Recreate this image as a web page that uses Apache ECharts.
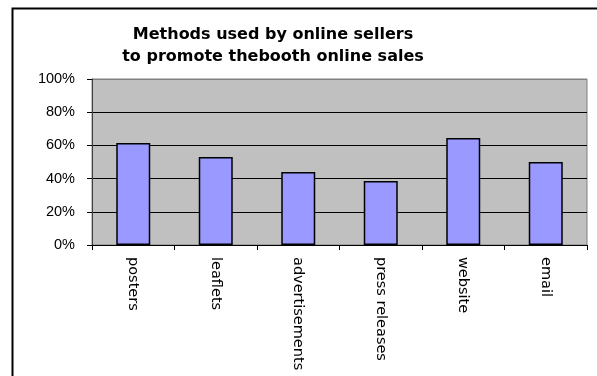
<!DOCTYPE html>
<html>
<head>
<meta charset="utf-8">
<script src="https://cdn.jsdelivr.net/npm/echarts@6/dist/echarts.min.js"></script>
<style>
  html, body { margin: 0; padding: 0; background: #fff; }
  #chart { width: 597px; height: 376px; }
</style>
</head>
<body>
<div id="chart"></div>
<script>
  // data
  const categories = ['posters', 'leaflets', 'advertisements', 'press releases', 'website', 'email']
  const shares = [61.5, 53, 44, 38.5, 64.5, 50]
  const yTicks = [0, 20, 40, 60, 80, 100]

  const chart = echarts.init(document.getElementById('chart'))
  chart.setOption({
    backgroundColor: '#fff',
    animation: false,
    textStyle: { fontFamily: 'Arial, "Liberation Sans", sans-serif' },
    title: {
      text: 'Methods used by online sellers\nto promote thebooth online sales',
      left: 268,
      top: 19,
      textAlign: 'center',
      textStyle: {
        fontSize: 16,
        fontWeight: 'bold',
        color: '#000',
        lineHeight: 22,
        fontFamily: '"DejaVu Sans", Arial, sans-serif'
      }
    },
    graphic: [{
      type: 'rect',
      shape: { x: 12.5, y: 8.5, width: 600, height: 380 },
      style: { fill: 'none', stroke: '#000', lineWidth: 2 },
      silent: true
    }],
    grid: {
      left: 92,
      top: 79,
      right: 10,
      bottom: 131,
      show: true,
      backgroundColor: '#c0c0c0',
      borderColor: '#808080',
      borderWidth: 1
    },
    xAxis: {
      type: 'category',
      data: categories,
      axisLine: { show: true, lineStyle: { color: '#000', width: 1 } },
      axisTick: { show: true, length: 5, lineStyle: { color: '#000' } },
      axisLabel: {
        rotate: -90,
        margin: 12,
        fontSize: 14.5,
        color: '#000',
        fontFamily: '"DejaVu Sans", Arial, sans-serif'
      },
      splitLine: { show: false }
    },
    yAxis: {
      type: 'value',
      min: yTicks[0],
      max: yTicks[yTicks.length - 1],
      interval: 20,
      axisLine: { show: true, lineStyle: { color: '#404040' } },
      axisTick: { show: true, length: 5, lineStyle: { color: '#000' } },
      axisLabel: {
        formatter: '{value}%',
        margin: 17,
        fontSize: 14.5,
        color: '#000'
      },
      splitLine: {
        show: true,
        lineStyle: { color: ['#000', '#000', '#000', '#000', '#000', '#808080'], width: 1 }
      }
    },
    series: [{
      type: 'bar',
      data: shares,
      barWidth: 34,
      itemStyle: {
        color: '#9999ff',
        borderColor: '#000',
        borderWidth: 1.5
      }
    }]
  })
</script>
</body>
</html>
